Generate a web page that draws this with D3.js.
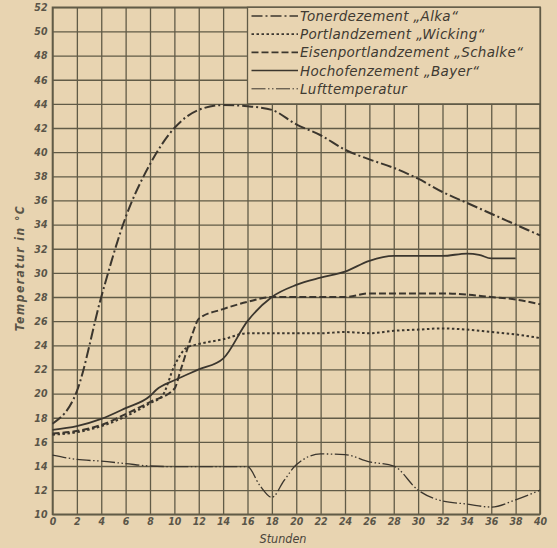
<!DOCTYPE html>
<html>
<head>
<meta charset="utf-8">
<script src="https://cdn.jsdelivr.net/npm/d3@7"></script>
<style>
  body { margin: 0; background: #e8d4b1; }
  svg { display: block; }
  .tick text { font-family: "DejaVu Sans Condensed", "DejaVu Sans", sans-serif; font-style: italic; font-weight: bold; fill: #5a5548; }
</style>
</head>
<body>
<script>
// Temperaturverlauf (Stunden -> °C)
var alkaH   = [0, 2, 4, 6, 8, 10, 12, 14, 16, 18, 20, 22, 24, 26, 28, 30, 32, 34, 36, 38, 40];
var alkaT   = [17.5, 20.2, 28.0, 34.6, 39.0, 42.0, 43.5, 43.9, 43.8, 43.5, 42.3, 41.4, 40.2, 39.4, 38.7, 37.8, 36.7, 35.8, 34.9, 34.0, 33.1];

var wickH   = [0, 2, 4, 6, 8, 9, 10, 11, 12, 14, 16, 18, 20, 22, 24, 26, 28, 30, 32, 34, 36, 38, 40];
var wickT   = [16.6, 16.8, 17.3, 18.1, 19.2, 19.8, 22.3, 23.8, 24.1, 24.5, 25.0, 25.0, 25.0, 25.0, 25.1, 25.0, 25.2, 25.3, 25.4, 25.3, 25.1, 24.9, 24.6];

var schaH   = [0, 2, 4, 6, 8, 10, 10.5, 11.5, 12, 14, 16, 18, 20, 22, 24, 26, 28, 30, 32, 34, 36, 38, 40];
var schaT   = [16.7, 16.9, 17.4, 18.3, 19.3, 20.4, 21.9, 25.0, 26.2, 27.0, 27.6, 28.0, 28.0, 28.0, 28.0, 28.3, 28.3, 28.3, 28.3, 28.2, 28.0, 27.8, 27.4];

var bayH    = [0, 2, 4, 6, 8, 8.5, 10, 12, 14, 16, 18, 20, 22, 24, 26, 28, 30, 32, 34, 35, 36, 38];
var bayT    = [17.0, 17.3, 17.9, 18.8, 19.8, 20.3, 21.1, 22.0, 22.9, 26.0, 28.0, 29.0, 29.6, 30.1, 31.0, 31.4, 31.4, 31.4, 31.6, 31.5, 31.2, 31.2];

var luftH   = [0, 2, 4, 6, 8, 10, 12, 14, 16, 17, 18, 19, 20, 22, 24, 26, 28, 30, 32, 34, 36, 38, 40];
var luftT   = [14.9, 14.55, 14.4, 14.2, 14.0, 13.95, 13.95, 13.95, 13.95, 12.4, 11.4, 12.8, 14.1, 15.0, 14.95, 14.35, 14.0, 12.0, 11.1, 10.85, 10.6, 11.2, 12.0];

var legendNames = ["Tonerdezement \u201EAlka\u201C", "Portlandzement \u201EWicking\u201C", "Eisenportlandzement \u201ESchalke\u201C", "Hochofenzement \u201EBayer\u201C", "Lufttemperatur"];
var xTicks = d3.range(0, 41, 2);
var yTicks = d3.range(10, 53, 2);

function init(){
    var w = 557, h = 548;
    var ink = "#3b362e";
    var gridCol = "#615b47";

    var svg = d3.select("body").append("svg")
        .attr("width", w)
        .attr("height", h);

    svg.append("rect").attr("width", w).attr("height", h).attr("fill", "#e8d4b1");

    var x = d3.scaleLinear().domain([0, 40]).range([52.5, 540]);
    var y = d3.scaleLinear().domain([10, 52]).range([514.3, 7.3]);

    // grid via axes
    var gx = svg.append("g")
        .attr("transform", "translate(0," + y(10) + ")")
        .call(d3.axisBottom(x).tickValues(xTicks).tickSize(-(y(10) - y(52))).tickPadding(3).tickFormat(d3.format("d")));
    var gy = svg.append("g")
        .attr("transform", "translate(" + x(0) + ",0)")
        .call(d3.axisLeft(y).tickValues(yTicks).tickSize(-(x(40) - x(0))).tickPadding(5).tickFormat(d3.format("d")));

    [gx, gy].forEach(function(g){
        g.select(".domain").remove();
        g.selectAll(".tick line").attr("stroke", gridCol).attr("stroke-width", 1.3);
        g.selectAll(".tick text").style("font-size", "10.5px");
    });
    gx.selectAll(".tick text").attr("dy", "0.75em");

    svg.append("rect")
        .attr("x", x(0)).attr("y", y(52))
        .attr("width", x(40) - x(0)).attr("height", y(10) - y(52))
        .attr("fill", "none").attr("stroke", gridCol).attr("stroke-width", 1.6);

    // legend box covers grid
    var lx0 = x(16), ly0 = y(52), lx1 = x(40), ly1 = y(44);
    svg.append("rect")
        .attr("x", lx0).attr("y", ly0)
        .attr("width", lx1 - lx0).attr("height", ly1 - ly0)
        .attr("fill", "#e8d4b1").attr("stroke", gridCol).attr("stroke-width", 1.3);

    var series = [
        {h: alkaH, t: alkaT, dash: "11,3,2,3", sw: 2},
        {h: wickH, t: wickT, dash: "2.5,2.5", sw: 2},
        {h: schaH, t: schaT, dash: "7,3", sw: 2},
        {h: bayH,  t: bayT,  dash: null, sw: 1.8},
        {h: luftH, t: luftT, dash: "14,2.5,1.5,2.5,1.5,2.5", sw: 1.3}
    ];

    var line = d3.line()
        .x(function(d){ return x(d[0]); })
        .y(function(d){ return y(d[1]); })
        .curve(d3.curveMonotoneX);

    series.forEach(function(s){
        var pts = s.h.map(function(v, i){ return [v, s.t[i]]; });
        svg.append("path")
            .attr("d", line(pts))
            .attr("fill", "none")
            .attr("stroke", ink)
            .attr("stroke-width", s.sw)
            .attr("stroke-dasharray", s.dash);
    });

    // legend entries
    var leg = svg.append("g");
    legendNames.forEach(function(name, i){
        var yy = 16 + i * 18.2;
        leg.append("line")
            .attr("x1", lx0 + 4).attr("x2", 298)
            .attr("y1", yy).attr("y2", yy)
            .attr("stroke", ink)
            .attr("stroke-width", series[i].sw - 0.3)
            .attr("stroke-dasharray", series[i].dash);
        leg.append("text")
            .attr("x", 300).attr("y", yy + 5)
            .attr("font-family", "DejaVu Sans, sans-serif")
            .attr("font-style", "italic")
            .attr("font-size", "13.5px")
            .attr("letter-spacing", "0.3px")
            .attr("fill", "#3f3a32")
            .text(name);
    });

    svg.append("text")
        .attr("transform", "translate(24," + 268 + ") rotate(-90)")
        .attr("text-anchor", "middle")
        .attr("font-family", "DejaVu Sans Condensed, DejaVu Sans, sans-serif")
        .attr("font-style", "italic")
        .attr("font-weight", "bold")
        .attr("font-size", "12px")
        .attr("letter-spacing", "1.5px")
        .attr("fill", "#5a5548")
        .text("Temperatur in °C");

    svg.append("text")
        .attr("x", 283).attr("y", 543)
        .attr("text-anchor", "middle")
        .attr("font-family", "DejaVu Sans Condensed, DejaVu Sans, sans-serif")
        .attr("font-style", "italic")
        .attr("font-size", "12.5px")
        .attr("fill", "#4a453b")
        .text("Stunden");
}

window.onload = init;
</script>
</body>
</html>
